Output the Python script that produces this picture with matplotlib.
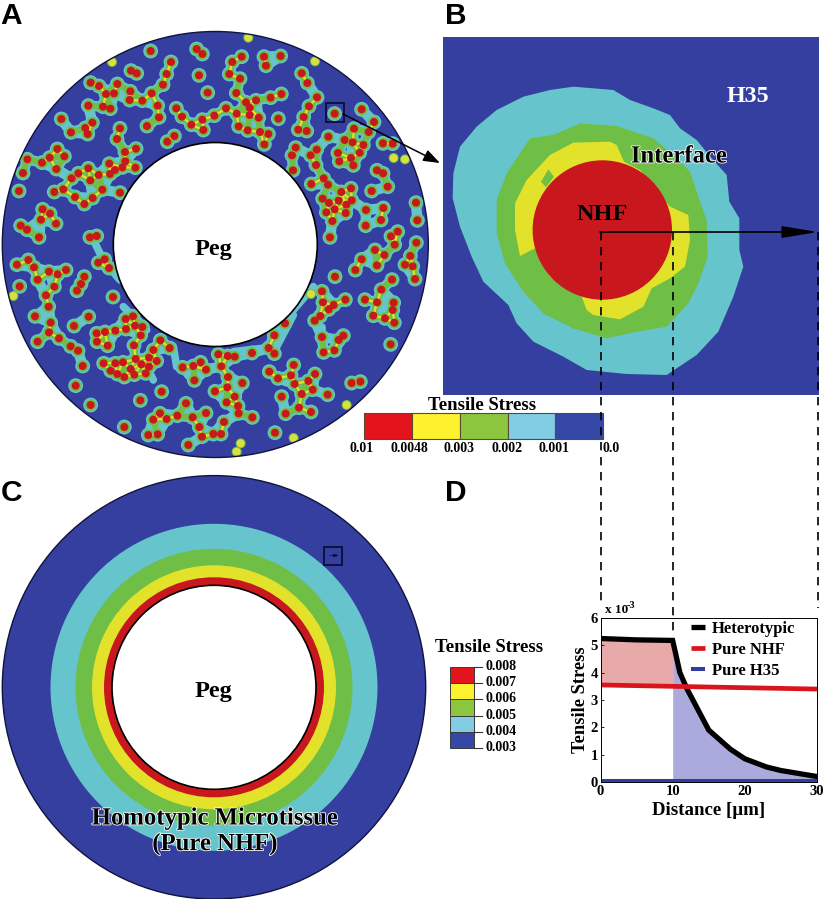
#!/usr/bin/env python3
# microtissue stress figure, panels A-D
import numpy as np
import matplotlib
matplotlib.use('Agg')
import matplotlib.pyplot as plt
import matplotlib.patheffects as pe
from matplotlib.patches import Circle, Polygon, Rectangle
from matplotlib.collections import PatchCollection, LineCollection
from matplotlib.lines import Line2D

plt.rcParams['font.family'] = ['Liberation Serif', 'DejaVu Serif']
plt.rcParams['font.weight'] = 'bold'
plt.rcParams['axes.labelweight'] = 'bold'

BLUE = '#353f9f'
CYAN = '#66c4cc'
GREEN = '#6fbe45'
YELLOW = '#e3e22b'
RED = '#c9181d'

cells_top = [(452,153),(590,147),(607,162),(792,170),(842,168),(798,197),(725,170),(697,186),(688,222),(720,236),
    (513,186),(500,222),(489,254),(393,212),(410,220),(597,226),(623,278),(272,248),(297,258),(352,252),
    (318,282),(342,280),(391,274),(389,300),(427,302),(455,280),(473,317),(477,352),(441,378),(265,317),
    (309,320),(331,326),(184,357),(277,368),(256,384),(263,402),(213,397),(360,385),(351,417),(375,456),
    (408,446),(376,484),(367,502),(345,510),(330,522),(328,491),(406,503),(296,525),(265,505),(271,541),
    (235,520),(215,535),(190,568),(163,576),(225,591),(253,612),(278,594),(307,569),(360,578),(172,447),
    (193,469),(149,473),(126,488),(169,507),(82,478),(69,519),(57,573),(128,628),(150,641),(123,659),
    (168,671),(62,677),(81,689),(117,712),(270,712),(290,708),(502,425),(523,408),(529,325),(546,350),
    (574,374),(607,359),(610,390),(643,347),(678,325),(710,341),(716,379),(743,391),(780,396),(805,402),
    (793,433),(709,279),(738,307),(768,301),(812,293),(844,282),(749,323),(749,345),(776,353),(835,356),
    (905,220),(922,249),(951,292),(927,319),(911,351),(895,389),(920,393),(1004,341),(1085,328),(1122,366),
    (1106,396),(1062,386),(985,410),(1034,420),(1058,427),(1090,435),(1079,458),(1053,474),(1014,459),(1018,484),
    (1060,496),(1149,430),(1178,431),(1131,511),(1149,520),(1163,560),(1115,573),(887,443),(876,466),(879,511),
    (932,466),(950,449),(948,495),(971,535),(984,554),(934,552),(1024,576),(1053,565),(968,596),(987,609),
    (1016,602),(1055,601),(1039,614),(1037,639),(1004,628),(979,637),(1098,630),(997,663),(1097,677),(1150,624),
    (1143,660),(1193,695),(1173,709),(1248,608),(1252,661),(990,712)]
cells_bottom = [(1184,44),(1249,38),(1125,60),(1153,75),(1131,106),(1085,88),(1066,120),(1231,78),(1215,104),(1238,109),
    (1245,147),(51,104),(85,90),(102,112),(113,149),(147,125),(173,133),(198,120),(163,170),(138,196),
    (146,230),(59,169),(253,140),(243,162),(231,182),(295,98),(314,88),(327,114),(339,201),(105,259),
    (266,260),(152,278),(147,307),(113,335),(177,325),(212,349),(234,362),(248,408),(222,288),(227,467),
    (272,525),(373,591),(421,511),(485,485),(377,267),(399,259),(405,287),(427,291),(378,297),(346,302),
    (315,306),(290,310),(291,335),(323,347),(422,316),(402,346),(481,331),(509,354),(460,360),(447,383),
    (470,393),(407,387),(424,403),(447,410),(392,417),(369,397),(346,400),(311,400),(332,422),(352,432),
    (373,441),(403,434),(437,430),(548,412),(580,408),(602,397),(618,419),(583,451),(664,409),(655,373),
    (683,378),(704,380),(756,369),(806,354),(823,371),(823,316),(855,280),(684,441),(727,459),(682,472),
    (645,484),(704,500),(680,517),(714,528),(716,550),(757,562),(672,576),(558,520),(532,557),(500,567),
    (480,550),(460,569),(618,549),(578,562),(598,591),(606,620),(640,612),(663,612),(445,615),(473,613),
    (565,645),(825,608),(808,425),(834,445),(873,436),(881,405),(884,462),(925,453),(945,432),(938,479),
    (983,494),(905,492),(897,533),(857,551),(933,546),(845,500),(1055,459),(1081,455),(1172,343),(971,367),
    (1003,361),(1016,330),(1030,317),(966,321),(944,272),(961,258),(986,238),(1001,225),(1036,209),(969,217),
    (966,184),(1005,140),(1095,209),(1131,217),(1144,179),(1176,149),(1181,218),(1178,240),(1120,257),(1155,265),
    (1183,278)]
# the yellow ones sitting on the rim
rim_top = [(745,113),(336,186),(945,184),(1181,474),(1215,478),(82,478)]
rim_bottom = [(40,198),(881,624),(722,640),(710,665),(1040,525),(933,192)]
# wider cyan webs, in the bottom crop
web_paths = [[(280,30),(300,70),(330,115),(360,150)], [(370,230),(410,270),(440,300)],
    [(520,350),(530,410)], [(700,365),(830,350),(880,255)], [(450,430),(460,450)],
    [(965,290),(965,370)], [(940,170),(880,240)]]

###### panel B contours, crop coords again
b_cyan = [(400,170),(520,180),(570,210),(640,235),(690,255),(720,295),(770,330),(815,385),(860,435),(868,515),
    (898,565),(898,660),(910,710),(880,800),(835,905),(770,975),(680,1035),(560,1032),(440,1020),(370,980),
    (280,935),(230,880),(205,825),(130,755),(95,680),(60,590),(38,505),(40,430),(60,350),(110,290),
    (170,240),(250,200),(330,180)]
b_green = [(420,280),(530,288),(640,325),(700,375),(750,425),(775,500),(800,570),(803,680),(775,760),(745,820),
    (680,890),(590,905),(500,925),(400,895),(310,850),(250,785),(195,700),(170,610),(170,510),(200,430),
    (270,325),(340,315)]
b_yellow = [(400,338),(510,335),(530,345),(552,395),(600,420),(690,530),(745,555),(750,630),(735,710),(690,745),
    (635,775),(610,830),(540,868),(460,855),(440,840),(425,800),(330,740),(285,655),(240,678),(225,600),
    (225,520),(260,450),(330,375)]
b_diamond = [(325,418),(342,440),(318,472),(303,455)]

###### legends
scale_a_labels = ['0.01', '0.0048', '0.003', '0.002', '0.001', '0.0']
scale_a_colors = ['#e3141c', '#fef22f', '#8cc63f', '#82cde3', '#3648a7']
scale_c_labels = ['0.008', '0.007', '0.006', '0.005', '0.004', '0.003']
scale_c_colors = ['#e3141c', '#fef22f', '#8cc63f', '#82cde3', '#3648a7']

###### panel D
dist_het = [0, 5, 10, 11, 12, 15, 18, 20, 23, 25, 30]
stress_het = [5.25, 5.2, 5.18, 4.0, 3.4, 1.9, 1.2, 0.85, 0.55, 0.42, 0.2]
dist_flat = [0, 30]
stress_nhf = [3.55, 3.4]
stress_h35 = [0.05, 0.05]


def crop_top(pts):
    return [(x/3, y/3) for x, y in pts]

def crop_bottom(pts):
    return [(x/3, y/3+230) for x, y in pts]

def crop_b(pts):
    return [(x/3+440, y/3+30) for x, y in pts]


fig = plt.figure(figsize=(8.25, 8.99), dpi=100)
ax = fig.add_axes([0, 0, 1, 1])
ax.set_xlim(0, 825)
ax.set_ylim(899, 0)
ax.axis('off')

# panel A
ca = (215.3, 244.5)
disc = Circle(ca, 213, fc=BLUE, ec='none', zorder=1)
ax.add_patch(disc)

cells = np.array(crop_top(cells_top)+crop_bottom(cells_bottom))
rim = np.array(crop_top(rim_top)+crop_bottom(rim_bottom))

d = np.hypot(cells[:, 0, None]-cells[:, 0], cells[:, 1, None]-cells[:, 1])
def links(limit):
    i, j = np.where((d > 0) & (d < limit))
    keep = i < j
    return [[cells[a], cells[b]] for a, b in zip(i[keep], j[keep])]

def add_discs(pts, r, color, z):
    pc = PatchCollection([Circle(p, r) for p in pts], facecolor=color, edgecolor='none', zorder=z)
    ax.add_collection(pc)
    pc.set_clip_path(disc)

def add_links(segs, lw, color, z):
    lc = LineCollection(segs, colors=color, linewidths=lw, zorder=z, capstyle='round')
    ax.add_collection(lc)
    lc.set_clip_path(disc)

webs = [crop_bottom(w) for w in web_paths]
add_links(webs, 5.5, CYAN, 2)
add_discs(cells, 7.4, CYAN, 2)
add_links(links(18), 7.5, CYAN, 2)
add_discs(cells, 5.8, GREEN, 3)
add_links(links(15.5), 4.5, GREEN, 3)
add_links(links(14), 1.6, YELLOW, 4)
add_discs(cells, 4.0, RED, 5)
add_discs(rim, 5, GREEN, 3)
add_discs(rim, 4, '#d9e040', 4)

ax.add_patch(Circle(ca, 102, fc='white', ec='black', lw=1.2, zorder=6))
ax.add_patch(Circle(ca, 213, fc='none', ec='#10143c', lw=1, zorder=6))
ax.add_patch(Rectangle((325.5, 103), 18, 19, fc='none', ec='#0a0f35', lw=1.3, zorder=7))
ax.annotate('', xy=(440, 163), xytext=(343, 114), zorder=8,
            arrowprops=dict(arrowstyle='-|>,head_length=10,head_width=3.6', mutation_scale=1,
                            color='black', lw=1.1, shrinkA=0, shrinkB=0))
ax.text(213, 249, 'Peg', fontsize=17.5, ha='center', va='center', zorder=9)

# panel B
ax.add_patch(Rectangle((443, 37), 376, 358, fc=BLUE, ec='none', zorder=1))
ax.add_patch(Polygon(crop_b(b_cyan), fc=CYAN, ec='none', zorder=2))
ax.add_patch(Polygon(crop_b(b_green), fc=GREEN, ec='none', zorder=3))
ax.add_patch(Polygon(crop_b(b_yellow), fc=YELLOW, ec='none', zorder=4))
ax.add_patch(Polygon(crop_b(b_diamond), fc=GREEN, ec='none', zorder=5))
ax.add_patch(Circle((602.3, 230), 69.7, fc=RED, ec='none', zorder=5))
ax.text(748, 96, 'H35', color='white', fontsize=17.3, ha='center', va='center', zorder=9)
ax.text(679, 156, 'Interface', fontsize=17.8, ha='center', va='center', zorder=9,
        path_effects=[pe.withStroke(linewidth=1.2, foreground='white')])
ax.text(602, 214, 'NHF', fontsize=17.5, ha='center', va='center', zorder=9)
ax.annotate('', xy=(818, 232), xytext=(600, 232), zorder=8,
            arrowprops=dict(arrowstyle='-|>,head_length=22,head_width=3.6', mutation_scale=1,
                            color='black', lw=1.2, shrinkA=0, shrinkB=0))

# dashed guides from B down into D
for gx, y_end in zip([600.5, 673, 818], [602, 636, 608]):
    ax.plot([gx, gx], [232, y_end], color='black', lw=1.2, ls=(0, (5, 4)), zorder=8)

# scale under B
edges_a = np.linspace(364, 603.3, len(scale_a_colors)+1)
for i, col in enumerate(scale_a_colors):
    ax.add_patch(Rectangle((edges_a[i], 413), edges_a[i+1]-edges_a[i], 26, fc=col, ec='#5a4a30', lw=0.8, zorder=6))
for lab, lx in zip(scale_a_labels, [362, 409, 459, 507, 554, 611]):
    ax.text(lx, 449, lab, fontsize=9.9, ha='center', va='center', zorder=9)
ax.text(482, 405, 'Tensile Stress', fontsize=13.5, ha='center', va='center', zorder=9)

# panel C
cc = (214, 687.3)
for r, col, z in zip([211.7, 163.5, 138.5, 122, 110], [BLUE, CYAN, GREEN, YELLOW, RED], [1, 2, 3, 4, 5]):
    ax.add_patch(Circle(cc, r, fc=col, ec='#10143c' if z == 1 else 'none', lw=1, zorder=z))
ax.add_patch(Circle(cc, 102, fc='white', ec='black', lw=1.2, zorder=6))
ax.add_patch(Rectangle((323.5, 547), 18.5, 18, fc='none', ec='#0a0f35', lw=1.3, zorder=7))
ax.annotate('', xy=(339, 555.5), xytext=(330, 555.5), zorder=8,
            arrowprops=dict(arrowstyle='-|>,head_length=3,head_width=1', mutation_scale=1,
                            color='#0a0f35', lw=0.6, shrinkA=0, shrinkB=0))
ax.text(213, 691, 'Peg', fontsize=17.5, ha='center', va='center', zorder=9)
glow = [pe.withStroke(linewidth=1.2, foreground='white')]
ax.text(215, 818, 'Homotypic Microtissue', fontsize=17.8, ha='center', va='center', zorder=9, path_effects=glow)
ax.text(215, 844, '(Pure NHF)', fontsize=17.8, ha='center', va='center', zorder=9, path_effects=glow)

# scale beside C
edges_c = [666.7, 682.7, 699, 715.7, 731.7, 747.7]
for i, col in enumerate(scale_c_colors):
    ax.add_patch(Rectangle((450, edges_c[i]), 24, edges_c[i+1]-edges_c[i], fc=col, ec='#3a3a3a', lw=0.7, zorder=6))
for lab, ly in zip(scale_c_labels, edges_c):
    ax.plot([474, 482], [ly, ly], color='#333333', lw=0.8, zorder=6)
    ax.text(485.5, ly, lab, fontsize=10, ha='left', va='center', zorder=9)
ax.text(489, 648, 'Tensile Stress', fontsize=13.5, ha='center', va='center', zorder=9)

# panel letters
for lab, lx, ly in zip('ABCD', [0, 445, 1, 445], [24, 24, 501, 501]):
    ax.text(lx, ly, lab, fontsize=21.5, family='Liberation Sans', ha='left', va='baseline', zorder=9)

# panel D, real axes
left, right, top, bottom = 600.5, 817, 618, 782
axd = fig.add_axes([left/825, (899-bottom)/899, (right-left)/825, (bottom-top)/899])
axd.patch.set_alpha(0)
axd.set_xlim(0, 30)
axd.set_ylim(0, 6)
d_x = np.array(dist_het, dtype=float)
d_y = np.array(stress_het)
nhf_at = np.interp(d_x, dist_flat, stress_nhf)
axd.fill_between(d_x, nhf_at, d_y, where=d_x <= 10, color='#e8a9a9', lw=0)
axd.fill_between(d_x, 0, d_y, where=d_x >= 10, color='#aaaadc', lw=0)
axd.plot(dist_het, stress_het, color='black', lw=3.8, label='Heterotypic', solid_joinstyle='miter')
axd.plot(dist_flat, stress_nhf, color='#d9141c', lw=3.4, label='Pure NHF')
axd.plot(dist_flat, stress_h35, color='#2f3f9f', lw=2.9, label='Pure H35')
axd.set_xticks([0, 10, 20, 30])
axd.set_yticks(range(7))
axd.tick_params(direction='in', length=2, width=0.6, labelsize=10.5, pad=2)
for s in axd.spines.values():
    s.set_linewidth(0.7)
axd.set_xlabel('Distance [µm]', fontsize=13.6, labelpad=3)
axd.set_ylabel('Tensile Stress', fontsize=13.3, labelpad=1)
hs = [Line2D([], [], color=c, lw=w, solid_capstyle='butt') for c, w in zip(['black', '#d9141c', '#2f3f9f'], [3.8, 3.4, 2.9])]
axd.legend(hs, ['Heterotypic', 'Pure NHF', 'Pure H35'], loc='upper left', bbox_to_anchor=(0.385, 1.03),
           frameon=False, fontsize=12, handlelength=0.8, handletextpad=0.45, labelspacing=0.3,
           borderpad=0.25, borderaxespad=0.2)
ax.text(605, 610, 'x 10', fontsize=9.5, ha='left', va='center', zorder=9)
ax.text(627, 606, '-3', fontsize=7.5, ha='left', va='center', zorder=9)

fig.savefig('out.png', dpi=100)
